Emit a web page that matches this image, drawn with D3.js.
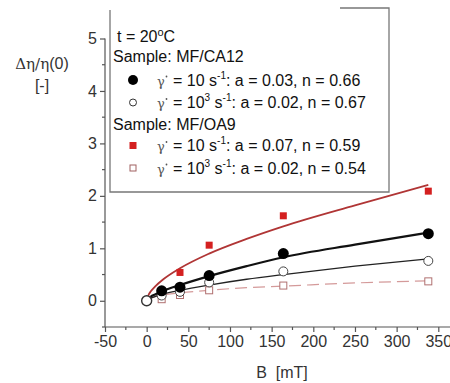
<!DOCTYPE html>
<html><head><meta charset="utf-8">
<script src="https://cdn.jsdelivr.net/npm/d3@7"></script>
<style>body{margin:0;background:#fff}svg{display:block}</style>
</head><body><svg id="c" width="450" height="383"></svg>
<script>
const pointB = [0, 18, 40, 75, 164, 338];
const ca12Low = [0, 0.19, 0.26, 0.48, 0.90, 1.28];   // filled circles, γ=10
const ca12High = [0, 0.10, 0.17, 0.35, 0.56, 0.76];  // open circles, γ=10^3
const oa9Low = [0, 0.15, 0.54, 1.06, 1.62, 2.09];    // filled red squares
const oa9High = [0, 0.03, 0.11, 0.20, 0.29, 0.37];   // open squares

const curveB = [0, 2, 5, 10, 20, 40, 75, 120, 164, 250, 338];
const fitCa12Low = [0, 0.04, 0.08, 0.12, 0.19, 0.30, 0.47, 0.66, 0.83, 1.07, 1.30];
const fitCa12High = [0, 0.03, 0.05, 0.08, 0.13, 0.20, 0.30, 0.41, 0.50, 0.66, 0.80];
const fitOa9Low = [0, 0.10, 0.18, 0.27, 0.41, 0.62, 0.90, 1.18, 1.42, 1.82, 2.21];
const fitOa9High = [0, 0.03, 0.05, 0.08, 0.11, 0.15, 0.20, 0.25, 0.28, 0.34, 0.38];

const xTicks = [-50, 0, 50, 100, 150, 200, 250, 300, 350];
const yTicks = [0, 1, 2, 3, 4, 5];

const svg = d3.select("#c");
const x = d3.scaleLinear().domain([-50, 350]).range([105, 438.3]);
const y = d3.scaleLinear().domain([-0.5, 5]).range([327, 38.5]);
const font = "'Liberation Sans', Arial, sans-serif";
const serif = "'DejaVu Serif', 'Liberation Serif', serif";
const axisCol = "#555";
const fmt = d => String(d);

// axes
const xAxis = svg.append("g").attr("transform", "translate(0,327)")
  .call(d3.axisBottom(x).tickValues(xTicks).tickSize(5).tickPadding(4).tickFormat(fmt));
const yAxis = svg.append("g").attr("transform", "translate(105,0)")
  .call(d3.axisLeft(y).tickValues(yTicks).tickSize(5).tickPadding(3).tickFormat(fmt));
[xAxis, yAxis].forEach(g => {
  g.select(".domain").attr("stroke", axisCol).attr("stroke-width", 1.2);
  g.selectAll(".tick line").attr("stroke", axisCol).attr("stroke-width", 1.2);
  g.selectAll(".tick text").attr("fill", "#333").attr("font-size", 16).style("font-family", font);
});
xAxis.select(".domain").attr("d", `M105,0H450`);
yAxis.select(".domain").attr("d", `M0,${y(5)}V${y(-0.5)}`);
// minor ticks
const xMinor = d3.range(-25, 351, 50);
svg.append("g").selectAll("line").data(xMinor).join("line")
  .attr("x1", d => x(d)).attr("x2", d => x(d)).attr("y1", 327).attr("y2", 330)
  .attr("stroke", axisCol).attr("stroke-width", 1.2);
const yMinor = [-0.5, 0.5, 1.5, 2.5, 3.5, 4.5];
svg.append("g").selectAll("line").data(yMinor).join("line")
  .attr("x1", 102).attr("x2", 105).attr("y1", d => y(d)).attr("y2", d => y(d))
  .attr("stroke", axisCol).attr("stroke-width", 1.2);

// axis titles
const yt = svg.append("text").attr("x", 42).attr("y", 69).attr("text-anchor", "middle")
  .attr("font-size", 16).attr("fill", "#333");
yt.append("tspan").style("font-family", serif).attr("font-size", 15).text("\u0394\u03b7/\u03b7");
yt.append("tspan").style("font-family", font).text("(0)");
svg.append("text").attr("x", 42).attr("y", 91).attr("text-anchor", "middle")
  .attr("font-size", 16).style("font-family", font).attr("fill", "#333").text("[-]");
svg.append("text").attr("x", 282).attr("y", 378).attr("text-anchor", "middle")
  .attr("font-size", 16).style("font-family", font).attr("fill", "#333")
  .style("white-space", "pre").text("B  [mT]");

// legend box
const lg = svg.append("g");
lg.append("rect").attr("x", 110).attr("y", 8).attr("width", 279).attr("height", 184)
  .attr("fill", "#fff").attr("stroke", "none");
lg.append("path").attr("d", "M110,10V192H389V8H340").attr("fill", "none")
  .attr("stroke", "#777").attr("stroke-width", 1.3);

// curves
const line = d3.line().x(d => x(d[0])).y(d => y(d[1])).curve(d3.curveMonotoneX);
const fits = [
  {v: fitOa9High, c: "#d49a9a", w: 1.2, dash: "12,6"},
  {v: fitCa12High, c: "#222", w: 1.3, dash: null},
  {v: fitCa12Low, c: "#111", w: 2.2, dash: null},
  {v: fitOa9Low, c: "#b03535", w: 1.8, dash: null}
];
fits.forEach(f => {
  svg.append("path").datum(curveB.map((b, i) => [b, f.v[i]]))
    .attr("d", line).attr("fill", "none").attr("stroke", f.c)
    .attr("stroke-width", f.w).attr("stroke-dasharray", f.dash);
});

// points
const sq = 7;
svg.append("g").selectAll("rect").data(pointB.map((b, i) => [b, oa9High[i]])).join("rect")
  .attr("x", d => x(d[0]) - sq / 2).attr("y", d => y(d[1]) - sq / 2).attr("width", sq).attr("height", sq)
  .attr("fill", "#fff").attr("stroke", "#b07070").attr("stroke-width", 1);
svg.append("g").selectAll("rect").data(pointB.map((b, i) => [b, oa9Low[i]]).slice(1)).join("rect")
  .attr("x", d => x(d[0]) - sq / 2).attr("y", d => y(d[1]) - sq / 2).attr("width", sq).attr("height", sq)
  .attr("fill", "#d42020");
svg.append("g").selectAll("circle").data(pointB.map((b, i) => [b, ca12High[i]])).join("circle")
  .attr("cx", d => x(d[0])).attr("cy", d => y(d[1])).attr("r", 4.5)
  .attr("fill", "#fff").attr("stroke", "#444").attr("stroke-width", 1);
svg.append("g").selectAll("circle").data(pointB.map((b, i) => [b, ca12Low[i]]).slice(1)).join("circle")
  .attr("cx", d => x(d[0])).attr("cy", d => y(d[1])).attr("r", 5.5).attr("fill", "#000");
svg.append("circle").attr("cx", x(0)).attr("cy", y(0)).attr("r", 5)
  .attr("fill", "#fff").attr("stroke", "#333").attr("stroke-width", 1.4);

// legend content
const lt = (yy, xx) => lg.append("text").attr("x", xx).attr("y", yy).attr("font-size", 16)
  .style("font-family", font).attr("fill", "#111");
const t1 = lt(42, 117); t1.append("tspan").text("t = 20"); t1.append("tspan").attr("font-size", 11).attr("dy", -6).text("o");
t1.append("tspan").attr("dy", 6).text("C");
lt(62, 113).text("Sample: MF/CA12");
lt(129.5, 113).text("Sample: MF/OA9");
const rows = [
  {yy: 85.5, exp: null, a: "0.03", n: "0.66"},
  {yy: 108, exp: "3", a: "0.02", n: "0.67"},
  {yy: 151, exp: null, a: "0.07", n: "0.59"},
  {yy: 173.5, exp: "3", a: "0.02", n: "0.54"}
];
rows.forEach(r => {
  lg.append("text").attr("x", 157).attr("y", r.yy).attr("font-size", 13)
    .style("font-family", serif).attr("fill", "#555").text("\u03b3");
  lg.append("circle").attr("cx", 166.5).attr("cy", r.yy - 9).attr("r", 0.9).attr("fill", "#555");
  const t = lt(r.yy, 173);
  t.append("tspan").text("= 10");
  if (r.exp) { t.append("tspan").attr("font-size", 10).attr("dy", -7).text(r.exp); t.append("tspan").attr("dy", 7).text(" s"); }
  else t.append("tspan").text(" s");
  t.append("tspan").attr("font-size", 10).attr("dy", -7).text("-1");
  t.append("tspan").attr("dy", 7).text(`: a = ${r.a}, n = ${r.n}`);
});
lg.append("circle").attr("cx", 133).attr("cy", 80).attr("r", 5).attr("fill", "#000");
lg.append("circle").attr("cx", 133).attr("cy", 102.5).attr("r", 3.5).attr("fill", "#fff").attr("stroke", "#333");
lg.append("rect").attr("x", 129.5).attr("y", 142).attr("width", 7).attr("height", 7).attr("fill", "#d42020");
lg.append("rect").attr("x", 130).attr("y", 165).attr("width", 6).attr("height", 6).attr("fill", "#fff").attr("stroke", "#a06060");
</script></body></html>
